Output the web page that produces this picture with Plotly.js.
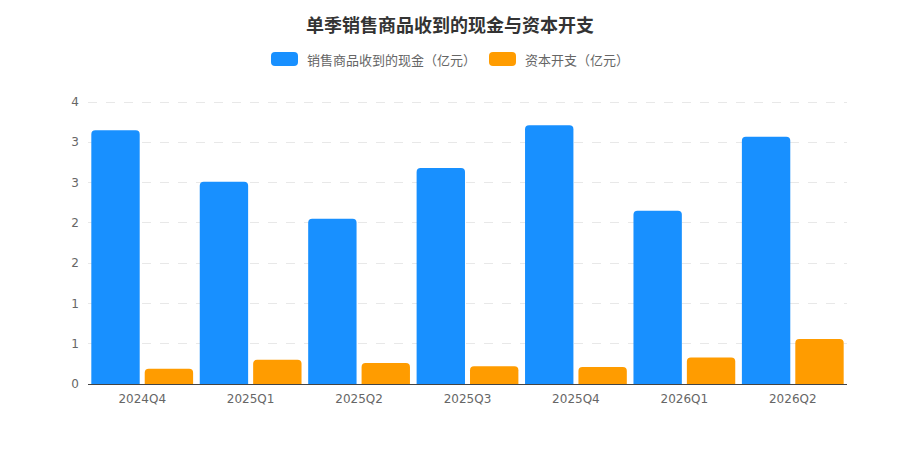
<!DOCTYPE html>
<html>
<head>
<meta charset="utf-8">
<script src="https://cdn.plot.ly/plotly-3.0.1.min.js"></script>
<style>
  html, body { margin: 0; padding: 0; background: #fff; }
  #chart { width: 900px; height: 450px; }
</style>
</head>
<body>
<div id="chart"></div>
<script>
// quarters on the x axis
var quarters = ['2024Q4', '2025Q1', '2025Q2', '2025Q3', '2025Q4', '2026Q1', '2026Q2'];

// 销售商品收到的现金 (亿元)
var cashFromSales = [3.15, 2.51, 2.05, 2.68, 3.21, 2.15, 3.07];
// 资本开支 (亿元)
var capex = [0.19, 0.30, 0.26, 0.22, 0.21, 0.33, 0.56];

// y ticks: the source labels them rounded to whole numbers
var yTickVals = [0, 0.5, 1, 1.5, 2, 2.5, 3, 3.5];
var yTickText = ['0', '1', '1', '2', '2', '3', '3', '4'];

var seriesNames = ['销售商品收到的现金（亿元）', '资本开支（亿元）'];
var seriesColors = ['#1890FF', '#FF9C00'];

var fontFamily = 'DejaVu Sans, "Noto Sans CJK SC", sans-serif';
var cjkFamily = '"Noto Sans CJK SC", sans-serif';

// plot area in pixels (must agree with the margins below)
// top is a bit above the 3.5 line so plotly keeps that gridline
var plotLeft = 88, plotRight = 847, plotTop = 100, plotBottom = 384;
var yMax = 3.5 * (plotBottom - plotTop) / 282;

// pixel -> paper coords, used for the hand drawn legend
function px(x) { return (x - plotLeft) / (plotRight - plotLeft); }
function py(y) { return (plotBottom - y) / (plotBottom - plotTop); }

// rounded rectangle path in paper coords
function roundRect(x0, y0, x1, y1, r) {
  var rx = r / (plotRight - plotLeft), ry = r / (plotBottom - plotTop);
  var L = px(x0), R = px(x1), T = py(y0), B = py(y1);
  return 'M' + (L + rx) + ',' + T +
    ' L' + (R - rx) + ',' + T + ' Q' + R + ',' + T + ' ' + R + ',' + (T - ry) +
    ' L' + R + ',' + (B + ry) + ' Q' + R + ',' + B + ' ' + (R - rx) + ',' + B +
    ' L' + (L + rx) + ',' + B + ' Q' + L + ',' + B + ' ' + L + ',' + (B + ry) +
    ' L' + L + ',' + (T - ry) + ' Q' + L + ',' + T + ' ' + (L + rx) + ',' + T + ' Z';
}

var traces = [];
for (var i = 0; i < seriesNames.length; i++) {
  traces.push({
    x: quarters,
    y: i === 0 ? cashFromSales : capex,
    type: 'bar',
    name: seriesNames[i],
    marker: { color: seriesColors[i], cornerradius: 4 },
    hoverinfo: 'skip'
  });
}

// legend: swatch x ranges and text start, all in pixels
var legendItems = [
  { sx0: 271, sx1: 298, tx: 305 },
  { sx0: 489, sx1: 516, tx: 523 }
];
var legendY = 59;

var shapes = [];
var annotations = [];
for (var i = 0; i < legendItems.length; i++) {
  var it = legendItems[i];
  shapes.push({
    type: 'path',
    xref: 'paper', yref: 'paper',
    path: roundRect(it.sx0, legendY - 7, it.sx1, legendY + 7, 4),
    fillcolor: seriesColors[i],
    line: { width: 0 }
  });
  annotations.push({
    xref: 'paper', yref: 'paper',
    x: px(it.tx), y: py(legendY),
    xanchor: 'left', yanchor: 'middle',
    text: seriesNames[i],
    showarrow: false,
    font: { family: cjkFamily, size: 13, color: '#666' }
  });
}

var layout = {
  width: 900,
  height: 450,
  paper_bgcolor: '#fff',
  plot_bgcolor: '#fff',
  font: { family: fontFamily, size: 12, color: '#666' },
  margin: { l: plotLeft, r: 900 - plotRight, t: plotTop, b: 450 - plotBottom },
  title: {
    text: '<b>单季销售商品收到的现金与资本开支</b>',
    font: { family: cjkFamily, size: 18, color: '#333' },
    x: 0.5,
    xanchor: 'center',
    y: 0.943,
    yanchor: 'middle'
  },
  showlegend: false,
  shapes: shapes,
  annotations: annotations,
  barmode: 'group',
  bargap: 0.015,
  bargroupgap: 0.094,
  xaxis: {
    type: 'category',
    showgrid: false,
    showline: true,
    linecolor: '#444',
    linewidth: 1,
    ticks: '',
    ticklabelstandoff: 4,
    tickfont: { size: 12, color: '#666' },
    fixedrange: true
  },
  yaxis: {
    range: [0, yMax],
    tickvals: yTickVals,
    ticktext: yTickText,
    showgrid: true,
    gridcolor: '#e8e8e8',
    griddash: 'dash',
    gridwidth: 1,
    zeroline: false,
    showline: false,
    ticks: '',
    ticklabelstandoff: 8,
    tickfont: { size: 12, color: '#666' },
    fixedrange: true
  }
};

Plotly.newPlot('chart', traces, layout, { displayModeBar: false, staticPlot: true });
</script>
</body>
</html>
